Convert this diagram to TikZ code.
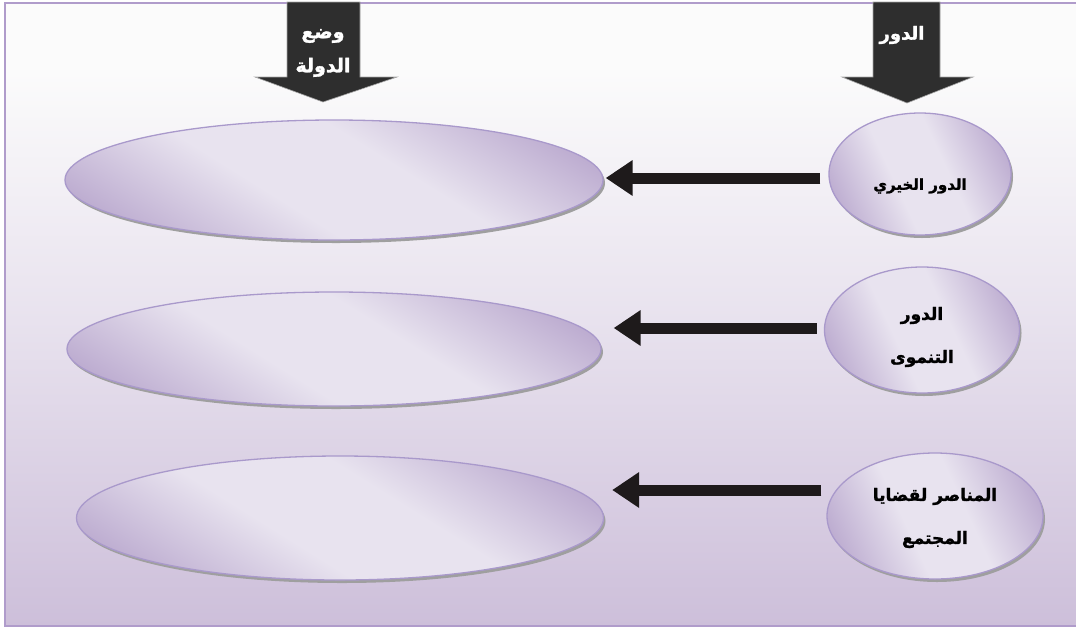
\documentclass[tikz,border=0pt]{standalone}
\usepackage{fontspec}
\newfontfamily\arabicfont[Script=Arabic, BoldFeatures={FakeBold=1.5}]{DejaVu Sans}
\TeXXeTstate=1
\usetikzlibrary{shapes.geometric,shadows,arrows.meta,calc}
\definecolor{frameC}{HTML}{B09CCB}
\definecolor{bgTop}{HTML}{FBFBFB}
\definecolor{bgMid}{HTML}{E8E2EE}
\definecolor{bgBot}{HTML}{CDBFDA}
\definecolor{ellDark}{HTML}{BBAACF}
\definecolor{ellLight}{HTML}{E8E3EF}
\definecolor{ellEdge}{HTML}{A999CB}
\definecolor{arrC}{HTML}{1E1A1B}
\definecolor{darrC}{HTML}{2E2E2E}
\pgfdeclareverticalshading{ovalshade}{100bp}{color(0bp)=(ellDark); color(22bp)=(ellDark); color(42bp)=(ellLight); color(58bp)=(ellLight); color(78bp)=(ellDark); color(100bp)=(ellDark)}
\tikzset{
  oval/.style={ellipse, draw=ellEdge, line width=1.3pt, inner sep=0pt,
    shading=ovalshade, shading angle=#1,
    drop shadow={shadow xshift=2pt, shadow yshift=-3pt, fill=gray!75, opacity=1}},
  roletxt/.style={font=\arabicfont\bfseries\fontsize{17}{43}\selectfont, align=center, text=black},
  headtxt/.style={font=\arabicfont\bfseries\fontsize{18}{34}\selectfont, align=center, text=white},
  harrow/.style={draw=arrC, line width=11pt, -{Triangle[length=27pt,width=34pt]}},
  downarrow/.style={fill=darrC, draw=gray!70, line width=0.6pt}
}
\begin{document}
\begin{tikzpicture}[x=1pt,y=-1pt]
\clip (0,0) rectangle (1076,630);
\fill[white] (0,0) rectangle (1076,630);
\fill[bgTop] (5,3) rectangle (1090,72);
\shade[top color=bgTop, bottom color=bgMid] (5,72) rectangle (1090,320);
\shade[top color=bgMid, bottom color=bgBot] (5,320) rectangle (1090,626);
\draw[frameC, line width=2.4pt] (5,3) rectangle (1090,626);

% down arrows
\draw[downarrow] (287,2) -- (360,2) -- (360,77) -- (397,77) -- (323,102) -- (255,77) -- (287,77) -- cycle;
\draw[downarrow] (873,2) -- (940,2) -- (940,77) -- (973,77) -- (907,103) -- (842,77) -- (873,77) -- cycle;
\node[headtxt, font=\arabicfont\bfseries\fontsize{19}{34}\selectfont] (stateH) at (323,53) {\beginR وضع\endR\\\beginR الدولة\endR};
\node[headtxt] (roleH) at (902,35) {\beginR الدور\endR};

% small ovals
\node[oval=-65, minimum width=182pt, minimum height=122pt] (s1) at (920,174) {};
\node[oval=-65, minimum width=195pt, minimum height=126pt] (s2) at (922,330) {};
\node[oval=-65, minimum width=216pt, minimum height=126pt] (s3) at (935,516) {};
\node[roletxt, font=\arabicfont\bfseries\fontsize{15}{40}\selectfont] (t1) at ($(s1.center)+(0,12)$) {\beginR الدور الخيري\endR};
\node[roletxt] (t2) at ($(s2.center)+(0,7)$) {\beginR الدور\endR\\\beginR التنموى\endR};
\node[roletxt] (t3) at ($(s3.center)+(0,2)$) {\beginR المناصر لقضايا\endR\\\beginR المجتمع\endR};

% big ovals
\node[oval=-32, minimum width=538pt, minimum height=120pt] (b1) at (334,180) {};
\node[oval=-32, minimum width=534pt, minimum height=114pt] (b2) at (334,349) {};
\node[oval=-32, minimum width=527pt, minimum height=124pt] (b3) at (340,518) {};

% connectors
\draw[harrow] ($(s1.west |- 0,178)+(-8,0)$) -- ($(b1.east |- 0,178)+(2,0)$);
\draw[harrow] ($(s2.west |- 0,328)+(-7,0)$) -- ($(b2.east |- 0,328)+(12,0)$);
\draw[harrow] ($(s3.west |- 0,490)+(-5,0)$) -- ($(b3.east |- 0,490)+(8,0)$);
\end{tikzpicture}
\end{document}
